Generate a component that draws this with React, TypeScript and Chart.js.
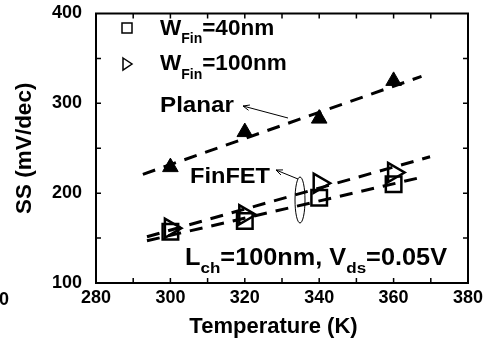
import React, { useEffect, useRef } from 'react';
import { Chart, registerables } from 'chart.js';

Chart.register(...registerables);

// ---- data ----
const temperatures = [300, 320, 340, 360];
const planarSS = [229, 268, 283, 325];
const wfin40SS = [157, 169, 195, 210];
const wfin100SS = [161, 176, 211, 223];

// dashed fit lines (end points)
const planarFitT = [292.6, 367.5];
const planarFitSS = [221, 330];
const wfin100FitT = [293.7, 369.8];
const wfin100FitSS = [151.5, 240.5];
const wfin40FitT = [293.7, 368.4];
const wfin40FitSS = [147, 218.5];

// axes
const xMin = 280;
const xMax = 380;
const xStep = 10;
const xLabelStep = 20;
const yMin = 100;
const yMax = 400;
const yStep = 50;
const yLabelStep = 100;

const xTitle = 'Temperature (K)';
const yTitle = 'SS (mV/dec)';

const FONT = '"Liberation Sans", Arial, Helvetica, sans-serif';

type Seg = { t: string; sub?: boolean };

function richText(
  ctx: CanvasRenderingContext2D,
  segs: Seg[],
  x: number,
  y: number,
  size: number,
  subSize: number,
  subDrop: number,
  sx = 1
) {
  ctx.save();
  ctx.translate(x, y);
  ctx.scale(sx, 1);
  ctx.fillStyle = '#000';
  ctx.textBaseline = 'alphabetic';
  ctx.textAlign = 'left';
  let cx = 0;
  for (const s of segs) {
    ctx.font = `bold ${s.sub ? subSize : size}px ${FONT}`;
    ctx.fillText(s.t, cx, s.sub ? subDrop : 0);
    cx += ctx.measureText(s.t).width;
  }
  ctx.restore();
}

function arrow(ctx: CanvasRenderingContext2D, hx: number, hy: number, tx: number, ty: number) {
  ctx.save();
  ctx.strokeStyle = '#000';
  ctx.lineWidth = 1;
  ctx.beginPath();
  ctx.moveTo(tx, ty);
  ctx.lineTo(hx, hy);
  const a = Math.atan2(hy - ty, hx - tx);
  const L = 7;
  const spread = 0.4;
  ctx.moveTo(hx, hy);
  ctx.lineTo(hx - L * Math.cos(a - spread), hy - L * Math.sin(a - spread));
  ctx.moveTo(hx, hy);
  ctx.lineTo(hx - L * Math.cos(a + spread), hy - L * Math.sin(a + spread));
  ctx.stroke();
  ctx.restore();
}

const decorPlugin = {
  id: 'decor',
  beforeDraw(chart: any) {
    const ctx = chart.ctx;
    ctx.save();
    ctx.fillStyle = '#fff';
    ctx.fillRect(0, 0, chart.width, chart.height);
    ctx.restore();
  },
  afterDraw(chart: any) {
    const ctx: CanvasRenderingContext2D = chart.ctx;
    const { left, right, top, bottom } = chart.chartArea;
    const xs = chart.scales.x;
    const ys = chart.scales.y;
    ctx.save();
    // frame
    ctx.strokeStyle = '#000';
    ctx.lineWidth = 2;
    ctx.strokeRect(left, top, right - left, bottom - top);
    // inward ticks
    ctx.lineWidth = 1.5;
    const tl = 5;
    ctx.beginPath();
    for (let v = xMin + xStep; v < xMax; v += xStep) {
      const px = xs.getPixelForValue(v);
      ctx.moveTo(px, bottom);
      ctx.lineTo(px, bottom - tl);
      ctx.moveTo(px, top);
      ctx.lineTo(px, top + tl);
    }
    for (let v = yMin + yStep; v < yMax; v += yStep) {
      const py = ys.getPixelForValue(v);
      ctx.moveTo(left, py);
      ctx.lineTo(left + tl, py);
      ctx.moveTo(right, py);
      ctx.lineTo(right - tl, py);
    }
    ctx.stroke();

    // axis titles
    ctx.fillStyle = '#000';
    ctx.font = `bold 22px ${FONT}`;
    ctx.textAlign = 'center';
    ctx.textBaseline = 'alphabetic';
    ctx.fillText(xTitle, 273.5, 333);
    ctx.save();
    ctx.translate(31, (top + bottom) / 2);
    ctx.rotate(-Math.PI / 2);
    ctx.font = `bold 22.5px ${FONT}`;
    ctx.fillText(yTitle, 0, 0);
    ctx.restore();

    // stray "0" at left edge
    ctx.font = `bold 18px ${FONT}`;
    ctx.textAlign = 'left';
    ctx.fillText('0', -1, 305);

    // legend markers
    ctx.lineWidth = 1.5;
    ctx.strokeRect(122, 23, 10, 10);
    ctx.beginPath();
    ctx.moveTo(123, 58);
    ctx.lineTo(132, 64);
    ctx.lineTo(123, 70);
    ctx.closePath();
    ctx.stroke();

    // legend texts
    richText(ctx, [{ t: 'W' }, { t: 'Fin', sub: true }, { t: '=40nm' }], 160, 35, 22.5, 14, 8);
    richText(ctx, [{ t: 'W' }, { t: 'Fin', sub: true }, { t: '=100nm' }], 160, 70, 22.5, 14, 9);

    // annotations
    richText(ctx, [{ t: 'Planar' }], 160, 112, 22, 14, 0, 1.1);
    arrow(ctx, 243, 106, 288, 118);
    richText(ctx, [{ t: 'FinFET' }], 190, 183, 22.5, 14, 0, 1.05);
    arrow(ctx, 276, 170, 298, 179);
    ctx.lineWidth = 1;
    ctx.beginPath();
    ctx.ellipse(300, 200, 5, 23, 0, 0, Math.PI * 2);
    ctx.stroke();

    richText(
      ctx,
      [{ t: 'L' }, { t: 'ch', sub: true }, { t: '=100nm, V' }, { t: 'ds', sub: true }, { t: '=0.05V' }],
      185,
      265,
      23,
      15.5,
      8,
      1.1
    );
    ctx.restore();
  },
};

function pts(xs: number[], ys: number[]) {
  return xs.map((x, i) => ({ x, y: ys[i] }));
}

export default function App() {
  const ref = useRef<HTMLCanvasElement | null>(null);
  useEffect(() => {
    if (!ref.current) return;
    const dash = [13, 9];
    const lineDs = (data: any) => ({
      type: 'scatter' as const,
      data,
      showLine: true,
      borderColor: '#000',
      borderWidth: 3,
      borderDash: dash,
      pointRadius: 0,
      fill: false,
    });
    const chart = new Chart(ref.current, {
      type: 'scatter',
      data: {
        datasets: [
          lineDs(pts(planarFitT, planarFitSS)),
          lineDs(pts(wfin100FitT, wfin100FitSS)),
          lineDs(pts(wfin40FitT, wfin40FitSS)),
          {
            data: pts(temperatures, planarSS),
            pointStyle: 'triangle',
            pointRadius: 9,
            backgroundColor: '#000',
            borderColor: '#000',
            borderWidth: 1,
          },
          {
            data: pts(temperatures, wfin40SS),
            pointStyle: 'rect',
            pointRadius: 11,
            backgroundColor: 'rgba(0,0,0,0)',
            borderColor: '#000',
            borderWidth: 2.5,
          },
          {
            data: pts(temperatures, wfin100SS),
            pointStyle: 'triangle',
            pointRotation: 90,
            pointRadius: 11,
            backgroundColor: 'rgba(0,0,0,0)',
            borderColor: '#000',
            borderWidth: 2.5,
          },
        ] as any,
      },
      options: {
        animation: false,
        responsive: false,
        maintainAspectRatio: false,
        devicePixelRatio: 1,
        layout: { padding: { top: 10, right: 33, left: 0, bottom: 0 } },
        plugins: { legend: { display: false }, tooltip: { enabled: false } },
        scales: {
          x: {
            type: 'linear',
            min: xMin,
            max: xMax,
            grid: { display: false, drawTicks: false },
            border: { display: false },
            ticks: {
              stepSize: xStep,
              autoSkip: false,
              maxRotation: 0,
              padding: 4,
              color: '#000',
              font: { family: FONT, size: 18, weight: 'bold' },
              callback: (v: any) => (Number(v) % xLabelStep === 0 ? String(v) : ''),
            },
            afterFit: (s: any) => {
              s.height = 56;
            },
          },
          y: {
            type: 'linear',
            min: yMin,
            max: yMax,
            grid: { display: false, drawTicks: true, tickLength: 14 },
            border: { display: false },
            ticks: {
              stepSize: yStep,
              autoSkip: false,
              padding: 0,
              color: '#000',
              font: { family: FONT, size: 18, weight: 'bold', lineHeight: 1 },
              callback: (v: any) => (Number(v) % yLabelStep === 0 ? String(v) : ''),
            },
            afterFit: (s: any) => {
              s.width = 96;
            },
          },
        },
      } as any,
      plugins: [decorPlugin],
    });
    return () => chart.destroy();
  }, []);
  return (
    <div style={{ position: 'fixed', left: 0, top: 0, width: 501, height: 339, background: '#fff' }}>
      <canvas ref={ref} width={501} height={339} style={{ display: 'block', width: 501, height: 339 }} />
    </div>
  );
}
